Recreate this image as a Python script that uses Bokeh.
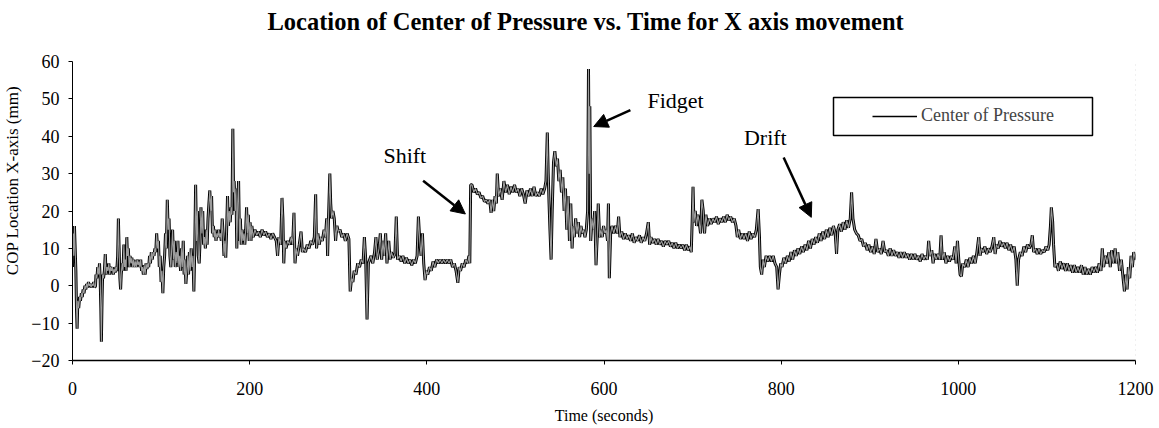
from bokeh.plotting import figure
from bokeh.models import (Range1d, FixedTicker, Arrow, NormalHead, Label,
                          Legend, LegendItem, BoxAnnotation)
from bokeh.embed import file_html
from bokeh.resources import INLINE

# ---------------- data ----------------
t_a = [0, 0.8, 1.5, 2.2, 3, 3.8, 4.5, 5.2, 6, 7,
       8, 9, 10, 11, 12, 13, 14, 15, 16, 17,
       18, 19, 20, 21, 22, 23, 24, 25, 26, 26.5,
       27.5, 28.5, 29.5, 30.5, 31.2, 32, 32.6, 33.4, 34, 35,
       36, 37, 38, 39, 40, 41, 42, 43, 44, 45,
       46, 47, 48, 49, 50, 51, 51.8, 52.6, 53.5, 54.3,
       55, 56, 57, 58, 58.8, 59.6, 60.5, 61.3, 62, 63,
       64, 65, 66, 67, 68, 69, 70, 71, 72, 73,
       74, 75, 76, 77, 78, 79, 80, 81, 82, 83,
       84, 85, 86, 87, 88, 89, 90, 91, 92, 93,
       94, 95, 96, 97, 98, 99]
v_a = [5, 14, 8, 16, 10, 4, -6, -11.5, -4, -6,
       -3, -4, -2, -3, -1, -2, 0, -1, 0.5, -0.5,
       1, 0, 0.5, -0.5, 0.5, 0, 1, -0.5, 0, 3,
       2, 5, 3, 6, 2, -6, -15, -3, 3, 2,
       4, 8.5, 3, 5, 4, 6, 3, 5, 4, 5,
       3, 4.5, 3.5, 5, 4, 8, 18, 10, 2, -1,
       3, 6, 4, 11, 5, 7, 4, 13, 8, 10,
       5, 8, 6, 7.5, 5, 7, 5, 6.5, 5, 7,
       5.5, 6.5, 5, 7, 4, 5, 3, 5.5, 3, 6,
       4.5, 6, 5, 8, 6, 9, 7, 9, 8, 10,
       9, 14, 10, 12, 5, 8]

t_b = [100, 101, 102, 103, 104, 105, 106, 107, 108, 109,
       110, 111, 112, 113, 114, 115, 116, 117, 118, 119,
       120, 121, 122, 123, 124, 125, 126, 127, 128, 129,
       130, 131, 132, 133, 134, 135, 136, 137, 138, 139,
       140, 141, 142, 143, 144, 145, 146, 147, 148, 149,
       150, 151, 152, 153, 154, 155, 156, 157, 158, 159,
       160, 161, 162, 163, 164, 165, 166, 167, 168, 169,
       170, 171, 172, 173, 174, 175, 176, 177, 178, 179,
       180, 181, 181.8, 182.5, 183.5, 184.5, 185.5, 186.5, 187.5, 188.5,
       189.5, 190.5, 191.5, 192.5, 193.5, 194.5, 195.5, 196.5, 197.5, 198.5,
       199.5, 200.5, 201.5, 202.5]
v_b = [1, 4, -2, 5, 8, 14, 10, 23, 15, 18,
       8, 5, 10, 15, 7, 12, 5, 9, 6, 12,
       5, 8, 4, 10, 5, 12, 3, 7, 0.5, 4,
       8, 3, 9, 4, 10, 5, 8, -1.5, 10, 27,
       12, 20, 8, 6, 12, 21, 14, 20, 11, 13,
       10, 15, 11, 18, 22, 25.5, 20, 24, 14, 16,
       13, 15, 12, 14, 13, 15, 13, 14, 12, 18,
       14, 8, 12, 7.5, 15, 24, 16, 20, 17, 21,
       19, 42, 25, 28, 20, 26, 10, 22, 28, 12,
       18, 11, 15, 12, 14, 11, 15, 21, 14, 19,
       12, 17, 12, 16]

t_c = [204, 206, 208, 210, 212, 214, 216, 218, 220, 222,
       224, 226, 228, 230, 231.5, 233, 235, 236.5, 237.5, 238.5,
       239.5, 241, 243, 245, 247, 248.5, 250, 251.2, 252.5, 254,
       256, 258, 259.5, 261, 263, 265, 267, 269, 271, 273,
       274.5, 275.5, 277, 278.5, 280, 282, 284, 285.5, 287, 288,
       289, 290.5, 291.5, 292.5, 294, 295.5, 297, 298.5, 300, 302,
       304, 306, 308, 310, 312]
v_c = [13, 15, 13.5, 14.5, 13, 15, 13.5, 14.5, 13, 14,
       12.5, 14, 13, 12, 8, 13, 11, 23.5, 18, 6,
       12, 10, 12, 11, 13, 11, 19.5, 6, 10, 8,
       11, 14.5, 9, 10, 9, 11, 10, 12, 11, 13,
       24.5, 10, 14, 11, 13, 12, 15, 13, 18, 8,
       18, 30, 22, 18, 20, 18, 12, 16, 14.5, 15,
       13, 14, 12, 14, 12.5]

t_d = [313.5, 315, 316.5, 318, 320, 322, 324, 326, 328, 329.5,
       331, 332.5, 334, 335.5, 337, 339, 341, 342.5, 344, 346,
       347.5, 349, 350.5, 352, 353.5, 355, 357, 358.5, 360, 362,
       364, 365.5, 367, 369, 371, 373, 375, 377, 379, 381,
       383, 385, 387, 389, 390.5, 392, 393.5, 395, 396.5, 398,
       399.5, 401, 403, 405, 407, 409, 411, 413, 415, 417,
       419, 421, 423, 425, 427, 429, 431, 433, 435, 436.5,
       438, 440, 442, 444, 446, 447.5, 448.5]
v_d = [-1.5, 2, 1, 4, 3, 6, 5, 7, 6, 13,
       7, -9, 6, 7, 8, 6, 9, 13, 7, 10,
       14, 7, 12, 8, 14, 6, 12, 7, 9, 7.5,
       8.5, 18.5, 7, 8, 6.5, 8, 6, 7.5, 6, 7,
       5.5, 7, 6, 8, 18.5, 12, 8, 14, 6, 1.5,
       4, 3, 5, 4, 6.5, 5, 7, 6, 7, 6,
       7, 6, 7, 6, 7, 5, 6, 4, 0.8, 5,
       4, 6, 5, 7, 6, 8, 6]

t_e = [449.5, 451, 453, 455, 457, 459, 461, 463, 465, 467,
       469, 471, 472.5, 474, 475.5, 477, 478.5, 479.5, 481, 483,
       485, 487, 489, 491, 493, 495, 497, 499, 501, 503,
       505, 507, 509, 511, 513, 515, 517, 519, 521, 523,
       525, 527, 529, 531, 533, 534.5, 536, 537, 538, 539,
       540.3, 541.5, 543, 544.5, 546, 547.5, 549, 550.5, 552, 553.5,
       555, 556.5, 558, 559.5, 561, 562.5, 564, 565, 566.5, 568,
       569.5, 571, 572.5, 574, 575.5, 577, 578.5, 580]
v_e = [27, 27, 25, 26, 24.5, 25, 23.5, 24, 22.5, 23,
       22, 23, 19.5, 23, 20, 24, 22, 30, 24, 26,
       23, 28, 25, 27, 24.5, 26.5, 25, 27, 25, 26,
       24, 26, 24.5, 22, 25.5, 24, 26, 24, 26.5, 24,
       25, 24, 26, 24.5, 26, 28, 41, 30, 22, 15,
       7, 20, 33, 36, 32, 34, 28, 31, 25, 29,
       20, 26, 15, 24, 12, 22, 10, 16, 13, 18,
       14, 17, 13, 16, 14, 15, 13, 15]

t_f = [581.5, 582.5, 583.3, 584, 585, 586.5, 588, 589.5, 591, 592.5,
       593.5, 595, 596.5, 598, 599.5, 601, 602.5, 604, 605, 606,
       607.5, 609, 611, 613, 615, 616.5, 618, 620, 622, 624,
       626, 628, 630, 632, 634, 636, 638, 640, 642, 644,
       646, 648, 650, 651.5, 653, 655, 657, 659, 661, 663,
       665, 667, 669, 671, 673, 675, 677, 679, 681, 683,
       685, 687, 689, 691, 693, 695, 697, 698.5]
v_f = [20, 58, 30, 48, 12, 18, 15, 20, 5.5, 14,
       22, 13, 15, 13, 16, 14, 15, 12, 22, 2,
       14, 16, 14, 16, 14, 18.5, 13, 14.5, 12.5, 14,
       12.5, 13.5, 12, 14, 11.5, 13, 12, 13.5, 11.5, 13,
       12, 14, 17, 11, 13, 11.5, 12.5, 11, 12.5, 11,
       12, 10.5, 12, 11, 12, 10.5, 11.5, 10, 11.5, 10,
       11, 10, 11, 9.5, 11, 9.5, 10.5, 9]

t_g = [699.5, 700.5, 701.5, 703, 704.5, 706, 707.5, 709, 710.5, 712,
       713.5, 715, 717, 719, 721, 723, 725, 727, 729, 731,
       733, 735, 737, 739, 741, 743, 745, 747, 749, 750.5,
       752, 754, 756, 758, 760, 762, 764, 766, 768, 770,
       772, 774, 775.5, 776.5, 778, 779.5, 781, 783, 785, 787,
       789, 791, 793, 795, 796.5, 798, 799.5, 801, 803]
v_g = [17, 26.5, 17, 20, 16, 19, 17, 14, 23, 20,
       14, 19, 16, 18, 16.5, 18, 17, 18.5, 16.5, 18,
       17, 18.5, 17, 19, 17.5, 18.5, 17, 18, 16, 13,
       15, 12.5, 14, 12.5, 14, 12, 14.5, 12.5, 14, 13,
       15, 20.5, 13, 5, 3, 7, 5, 8, 6.5, 8,
       6.5, 8, 6, 5, -1, 3, 6, 5, 7.5]

t_h = [805, 807, 809, 811, 813, 815, 817, 819, 821, 823,
       825, 827, 829, 831, 833, 835, 837, 839, 841, 843,
       845, 847, 849, 851, 853, 855, 857, 859, 861, 862.5,
       864, 866, 868, 870, 872, 874, 876, 878, 879.5, 881,
       883, 885, 887, 889, 891, 893, 895, 897, 899, 901,
       903, 905]
v_h = [6, 8, 6.5, 9, 7, 9.5, 8, 10, 8.5, 10.5,
       9, 11, 9.5, 12, 10, 12.5, 11, 13, 11.5, 14,
       12, 14.5, 12.5, 15, 13, 15.5, 13.5, 16, 14, 8.5,
       15, 16.5, 14.5, 17, 15, 17.5, 15.5, 18, 25, 18,
       15, 14, 13.5, 12, 12.5, 10.5, 11.5, 9.5, 11, 9,
       10.5, 8.5]

t_i = [907, 909, 911, 913, 915, 917, 919, 921, 923, 925,
       927, 929, 931, 933, 935, 937, 939, 941, 943, 945,
       947, 949, 951, 953, 955, 957, 959, 961, 963, 965,
       966.5, 968, 970, 971.5, 973, 975, 977, 979, 980.5, 982,
       984, 986, 988, 990, 992, 994, 996, 997.5, 999, 1000.5,
       1002, 1003.5, 1005]
v_i = [12.5, 9, 10, 8.5, 12, 9, 9.5, 8, 10, 8,
       9.5, 8, 9, 7.5, 9, 7.5, 9, 7.5, 8.5, 7,
       8.5, 7, 8.5, 7, 8, 6.5, 8.5, 7, 8, 7,
       12, 8, 9.5, 6, 8.5, 7, 8.5, 7, 13.5, 7,
       9, 6, 8, 6.5, 8, 7, 10.5, 6, 12, 7,
       3, 2.5, 6]

t_j = [1007, 1009, 1011, 1013, 1015, 1017, 1019, 1021, 1023, 1024.5,
       1026, 1028, 1030, 1032, 1034, 1036, 1038, 1040, 1041.5, 1043,
       1045, 1047, 1049, 1051, 1053, 1055, 1057, 1059, 1061, 1063,
       1065, 1066.5, 1068, 1070, 1072, 1074, 1076, 1078, 1080, 1082,
       1083.5, 1085, 1087, 1089, 1091, 1093, 1095, 1097, 1099, 1101,
       1102.5, 1104, 1105, 1106.5, 1107.5]
v_j = [5, 7, 5, 7.5, 6, 8, 6, 9, 13, 8,
       10, 9, 10.5, 8.5, 10, 9, 10.5, 13, 8.5, 11,
       10, 12, 10.5, 11.5, 10, 11.5, 9.5, 11, 9, 10.5,
       7, 0, 7, 9, 8, 10.5, 9, 11, 10, 11,
       13.5, 9, 10, 8.5, 10, 8.5, 9.5, 9, 10.5, 9.5,
       11, 16, 21, 17, 11]

t_k = [1109, 1111, 1113, 1115, 1117, 1119, 1121, 1123, 1125, 1127,
       1129, 1131, 1133, 1135, 1137, 1139, 1141, 1143, 1145, 1147,
       1149, 1151, 1153, 1155, 1157, 1159, 1161, 1162.5, 1164, 1166,
       1168, 1170, 1171.5, 1173, 1175, 1177, 1178.5, 1180, 1182, 1184,
       1186, 1187.5, 1189, 1190.5, 1192, 1193.5, 1195, 1196.5, 1198, 1200]
v_k = [5, 6, 4, 6.5, 4.5, 6, 4, 6, 4, 5.5,
       3.5, 5.5, 3.5, 5, 3.5, 5.5, 3, 5, 3, 4.5,
       3, 5, 3.5, 5, 3.5, 6, 4, 10, 5, 8,
       6, 9, 5, 9.5, 6, 10, 6, 9, 4, 7,
       2, -1.5, 3, -1, 5, 2, 8, 5, 9, 7]

x_ticks = [0, 200, 400, 600, 800, 1000, 1200]
y_ticks = [-20, -10, 0, 10, 20, 30, 40, 50, 60]

title_text = "Location of Center of Pressure vs. Time for X axis movement"
notes = ["Shift", "Fidget", "Drift"]
note_x = [351, 649, 758]
note_y = [34.8, 49.5, 39.6]
arrow_from = [(395.8, 28.1), (629.8, 47.0), (802.8, 34.3)]
arrow_to = [(443.5, 19.2), (588.4, 42.6), (834.0, 18.3)]

# ---------------- assemble ----------------
t_segments = [t_a, t_b, t_c, t_d, t_e, t_f, t_g, t_h, t_i, t_j, t_k]
v_segments = [v_a, v_b, v_c, v_d, v_e, v_f, v_g, v_h, v_i, v_j, v_k]
for ts, vs in zip(t_segments, v_segments):
    assert len(ts) == len(vs), (len(ts), len(vs), ts[0])
time_s = [x for seg in t_segments for x in seg]
cop_mm = [y for seg in v_segments for y in seg]

SERIF = "Liberation Serif"

# The frame is extended to the top of the canvas so the title can sit inside it;
# the axis itself is bounded to -20..60 (the value scale stays 80 units per 299 px).
y_low, y_high = y_ticks[0], y_ticks[-1]
frame_h = 428 - 68
axis_px = 299
y_top = y_low + (y_high - y_low) * frame_h / axis_px

p = figure(width=1159, height=428, output_backend="svg", toolbar_location=None,
           x_range=Range1d(x_ticks[0], x_ticks[-1]), y_range=Range1d(y_low, y_top),
           min_border_left=72, min_border_right=24,
           min_border_top=0, min_border_bottom=68)

# chart title (screen units: from frame left / frame bottom)
p.add_layout(Label(x=195, y=339, x_units="screen", y_units="screen",
                   text=title_text, text_font=SERIF, text_font_size="24.5px",
                   text_font_style="bold", text_color="black",
                   text_baseline="alphabetic"))

p.grid.visible = False
p.outline_line_color = None
p.background_fill_color = "white"

p.xaxis.ticker = FixedTicker(ticks=x_ticks)
p.yaxis.ticker = FixedTicker(ticks=y_ticks)
p.yaxis.bounds = (y_low, y_high)
for ax in (p.xaxis, p.yaxis):
    ax.major_label_text_font = SERIF
    ax.major_label_text_font_size = "18px"
    ax.major_label_text_color = "black"
    ax.axis_label_text_font = SERIF
    ax.axis_label_text_font_style = "normal"
    ax.axis_label_text_color = "black"
    ax.axis_line_color = "black"
    ax.major_tick_line_color = "black"
    ax.minor_tick_line_color = None
    ax.major_tick_in = 0
    ax.major_tick_out = 4
p.xaxis.axis_label_text_font_size = "16px"
p.yaxis.axis_label_text_font_size = "17px"
p.xaxis.axis_line_width = 1.6
p.xaxis.major_label_standoff = 17
p.yaxis.major_label_standoff = 9
p.xaxis.axis_label = "Time (seconds)"
p.yaxis.axis_label = "COP Location X-axis (mm)"
p.xaxis.axis_label_standoff = 9
p.yaxis.axis_label_standoff = 6

# faint dotted right border of the plot area
p.segment(x0=[x_ticks[-1]], y0=[y_low], x1=[x_ticks[-1]], y1=[y_high],
          line_color="#c4c4c4", line_width=1, line_dash="1 4")

p.line(time_s, cop_mm, line_color="black", line_width=3.0)
p.line(time_s, cop_mm, line_color="#9c9c9c", line_width=1.1)

for name, x, y in zip(notes, note_x, note_y):
    p.add_layout(Label(x=x, y=y, text=name, text_font=SERIF, text_font_size="22px",
                       text_color="black", text_baseline="alphabetic"))
for (x0, y0), (x1, y1) in zip(arrow_from, arrow_to):
    p.add_layout(Arrow(x_start=x0, y_start=y0, x_end=x1, y_end=y1,
                       line_color="black", line_width=2.5,
                       end=NormalHead(size=14, fill_color="black", line_color="black")))

box = BoxAnnotation(left=761, right=1020, bottom=225, top=263,
                    left_units="screen", right_units="screen",
                    bottom_units="screen", top_units="screen",
                    fill_color="white", fill_alpha=1.0,
                    line_color="black", line_alpha=1.0, line_width=1.5)
p.add_layout(box)

nan = float("nan")
dummy = p.line(x=[nan, nan], y=[nan, nan], line_color="black", line_width=1.5)
legend = Legend(items=[LegendItem(label="Center of Pressure", renderers=[dummy])],
                location=(800, 234), glyph_width=45, glyph_height=20,
                label_height=20, label_standoff=4, padding=0, margin=0,
                border_line_color=None, background_fill_alpha=0,
                label_text_font=SERIF, label_text_font_size="18px")
p.add_layout(legend)

open("out.html", "w").write(file_html(p, INLINE))
